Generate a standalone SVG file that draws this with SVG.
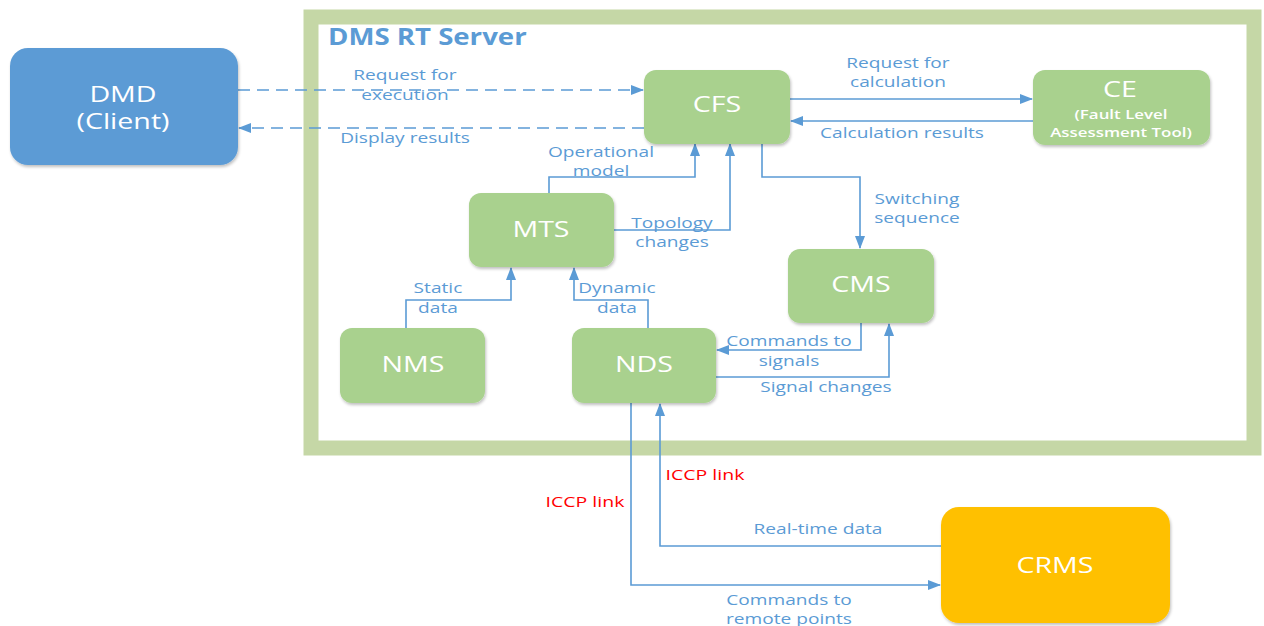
<svg xmlns="http://www.w3.org/2000/svg" width="1264" height="626" viewBox="0 0 1264 626">
  <defs>
    <marker id="arrow" viewBox="0 0 13 10" refX="12" refY="5" markerWidth="13" markerHeight="10" markerUnits="userSpaceOnUse" orient="auto">
      <path d="M0,0 L13,5 L0,10 z" fill="#5b9bd5"/>
    </marker>
    <filter id="shadow" x="-10%" y="-10%" width="125%" height="125%">
      <feGaussianBlur in="SourceAlpha" stdDeviation="1.5"/>
      <feOffset dx="1" dy="1.5" result="b"/>
      <feComponentTransfer><feFuncA type="linear" slope="0.25"/></feComponentTransfer>
      <feMerge><feMergeNode/><feMergeNode in="SourceGraphic"/></feMerge>
    </filter>
  </defs>
  <style>
    .green { fill: #a9d18e; filter: url(#shadow); }
    .blue { fill: #5b9bd5; filter: url(#shadow); }
    .orange { fill: #ffc000; filter: url(#shadow); }
    text { font-family: "Open Sans", "Noto Sans", sans-serif; text-anchor: middle; transform-box: fill-box; transform-origin: center; }
    .title { font-size: 23px; font-weight: bold; fill: #5b9bd5; text-anchor: start; transform-origin: left center; transform: scaleX(1.2); }
    .name { font-size: 22px; fill: #ffffff; transform: scaleX(1.3); }
    .sub { font-size: 13px; font-weight: 600; fill: #ffffff; transform: scaleX(1.3); }
    .lbl { font-size: 14.5px; fill: #5b9bd5; transform: scaleX(1.32); }
    .red { font-size: 15px; fill: #ff0000; transform: scaleX(1.3); }
    .line { fill: none; stroke: #5b9bd5; stroke-width: 1.6; marker-end: url(#arrow); }
    .dash { stroke-dasharray: 12 7; }
  </style>

  <rect width="1264" height="626" fill="#ffffff"/>

  <!-- server frame -->
  <g id="dms-rt-server">
    <rect x="311" y="17" width="943" height="431" fill="#ffffff" stroke="#c5d7a6" stroke-width="15"/>
    <text class="title" x="328" y="45">DMS RT Server</text>
  </g>

  <!-- connectors -->
  <g id="connectors">
    <path class="line dash" d="M238,90 H643"/>
    <path class="line dash" d="M644,128 H239"/>
    <path class="line" d="M790,99 H1032"/>
    <path class="line" d="M1033,121 H791"/>
    <path class="line" d="M549,193 V177 H695 V144"/>
    <path class="line" d="M614,230 H730 V144"/>
    <path class="line" d="M762,143 V177 H860 V248"/>
    <path class="line" d="M406,328 V300 H511 V268"/>
    <path class="line" d="M648,328 V300 H574 V268"/>
    <path class="line" d="M861,323 V350 H717"/>
    <path class="line" d="M716,377 H889 V324"/>
    <path class="line" d="M631,403 V585 H940"/>
    <path class="line" d="M941,546 H660 V404"/>

    <text class="lbl" x="405" y="80">Request for</text>
    <text class="lbl" x="405" y="100">execution</text>
    <text class="lbl" x="405" y="143">Display results</text>
    <text class="lbl" x="898" y="68">Request for</text>
    <text class="lbl" x="898" y="87">calculation</text>
    <text class="lbl" x="902" y="138">Calculation results</text>
    <text class="lbl" x="601" y="157">Operational</text>
    <text class="lbl" x="601" y="176">model</text>
    <text class="lbl" x="672" y="228">Topology</text>
    <text class="lbl" x="672" y="247">changes</text>
    <text class="lbl" x="917" y="204">Switching</text>
    <text class="lbl" x="917" y="223">sequence</text>
    <text class="lbl" x="438" y="293">Static</text>
    <text class="lbl" x="438" y="313">data</text>
    <text class="lbl" x="617" y="293">Dynamic</text>
    <text class="lbl" x="617" y="313">data</text>
    <text class="lbl" x="789" y="346">Commands to</text>
    <text class="lbl" x="789" y="366">signals</text>
    <text class="lbl" x="826" y="392">Signal changes</text>
    <text class="lbl" x="818" y="534">Real-time data</text>
    <text class="lbl" x="789" y="605">Commands to</text>
    <text class="lbl" x="789" y="624">remote points</text>
    <text class="red" x="585" y="507">ICCP link</text>
    <text class="red" x="705" y="480">ICCP link</text>
  </g>

  <!-- nodes -->
  <g id="dmd">
    <rect class="blue" x="10" y="48" width="228" height="117" rx="18"/>
    <text class="name" x="123" y="102">DMD</text>
    <text class="name" x="123" y="129">(Client)</text>
  </g>
  <g id="cfs">
    <rect class="green" x="644" y="70" width="146" height="74" rx="12"/>
    <text class="name" x="717" y="112">CFS</text>
  </g>
  <g id="ce">
    <rect class="green" x="1033" y="70" width="177" height="75" rx="12"/>
    <text class="name" x="1120" y="97">CE</text>
    <text class="sub" x="1121" y="119">(Fault Level</text>
    <text class="sub" x="1121" y="137">Assessment Tool)</text>
  </g>
  <g id="mts">
    <rect class="green" x="469" y="193" width="145" height="74" rx="12"/>
    <text class="name" x="541" y="237">MTS</text>
  </g>
  <g id="cms">
    <rect class="green" x="788" y="249" width="146" height="74" rx="12"/>
    <text class="name" x="861" y="292">CMS</text>
  </g>
  <g id="nms">
    <rect class="green" x="340" y="328" width="145" height="75" rx="12"/>
    <text class="name" x="413" y="372">NMS</text>
  </g>
  <g id="nds">
    <rect class="green" x="572" y="328" width="144" height="75" rx="12"/>
    <text class="name" x="644" y="372">NDS</text>
  </g>
  <g id="crms">
    <rect class="orange" x="941" y="507" width="229" height="116" rx="18"/>
    <text class="name" x="1055" y="573">CRMS</text>
  </g>
</svg>
